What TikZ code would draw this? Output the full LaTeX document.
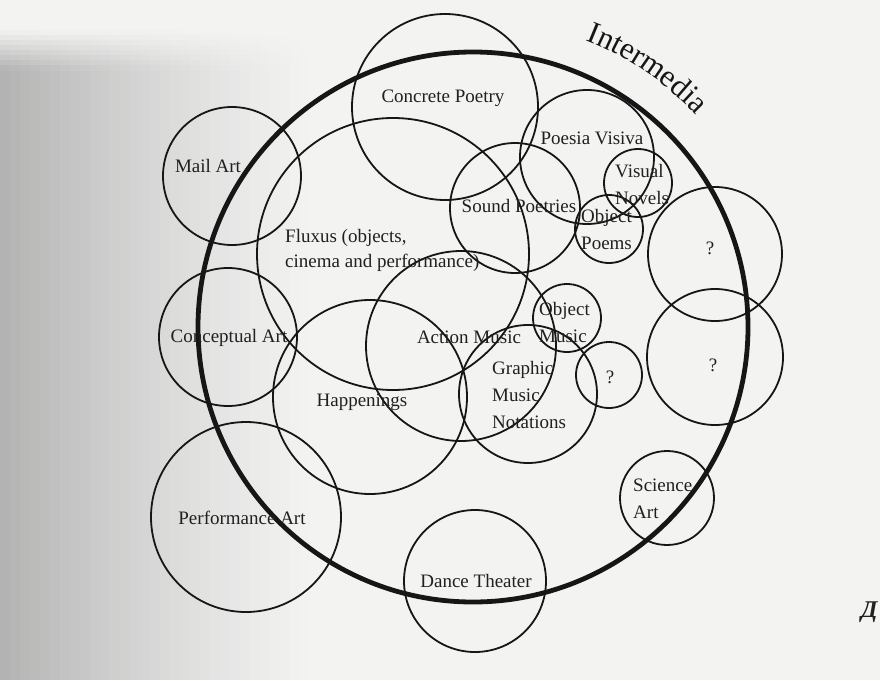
\documentclass[tikz,border=0pt]{standalone}
\usepackage{fontspec}
\setmainfont{Liberation Serif}
\newfontfamily\cyrfont{Liberation Serif}
\usetikzlibrary{decorations.text,calc}
\definecolor{pagebg}{RGB}{243,243,242}
\definecolor{shadowc}{RGB}{178,178,178}
\definecolor{ink}{RGB}{22,22,22}
\definecolor{txt}{RGB}{32,32,32}
\begin{document}
\begin{tikzpicture}[x=1pt,y=1pt,
  ring/.style={circle, draw=ink, line width=1.8pt, inner sep=0pt, minimum size=#1},
  bigring/.style={circle, draw=ink, line width=4.8pt, inner sep=0pt, minimum size=#1},
  lbl/.style={text=txt, font=\fontsize{19}{27}\selectfont, inner sep=0pt},
  mlbl/.style={lbl, align=left, anchor=west}]
\useasboundingbox (0,0) rectangle (880,-680);
\clip (0,0) rectangle (880,-680);
% page background with the soft shadow on the left
\fill[pagebg] (0,0) rectangle (880,-680);
\foreach \c in {0,...,31} {
  \pgfmathsetmacro\fx{100*(1-(\c*10+5)/320)^1.3}
  \fill[shadowc!\fx!pagebg] (\c*10,-70) rectangle (\c*10+10.6,-680);
  \foreach \r in {0,...,7} {
    \pgfmathsetmacro\fy{\fx*(\r+0.5)/8}
    \fill[shadowc!\fy!pagebg] (\c*10,-30-5*\r) rectangle (\c*10+10.6,-35.6-5*\r);
  }
}
% the Intermedia circle
\node[bigring=550pt] (inter) at (473,-327) {};
% the circles of the chart
\node[ring=186pt] (concrete) at (445,-107) {};
\node[ring=138pt] (mail) at (232,-176) {};
\node[ring=272pt] (fluxus) at (393,-254) {};
\node[ring=134pt] (poesia) at (587,-157) {};
\node[ring=130pt] (sound) at (515,-208) {};
\node[ring=68pt] (visual) at (638,-183) {};
\node[ring=68pt] (objpoems) at (609,-229) {};
\node[ring=134pt] (q1) at (715,-254) {};
\node[ring=136pt] (q2) at (715,-357) {};
\node[ring=68pt] (objmusic) at (567,-318) {};
\node[ring=66pt] (q3) at (609,-375) {};
\node[ring=190pt] (action) at (461,-346) {};
\node[ring=138pt] (graphic) at (528,-394) {};
\node[ring=138pt] (conceptual) at (228,-337) {};
\node[ring=194pt] (happenings) at (370,-397) {};
\node[ring=190pt] (performance) at (246,-517) {};
\node[ring=142pt] (dance) at (475,-581) {};
\node[ring=94pt] (science) at (667,-498) {};
% title along the big circle
\path[decorate, decoration={text along path, text align=center,
  text={|\fontsize{31}{32}\selectfont\color{ink}|Intermedia}}]
  ($(inter.center)+(80:308pt)$) arc[start angle=80, end angle=32, radius=308pt];
% labels
\node[lbl] (concreteL) at (443,-98) {Concrete Poetry};
\node[lbl] (mailL) at (208,-166) {Mail Art};
\node[mlbl, font=\fontsize{19}{25}\selectfont] (fluxusL) at (285,-250) {Fluxus (objects,\\cinema and performance)};
\node[lbl] (poesiaL) at (592,-138) {Poesia Visiva};
\node[lbl] (soundL) at (519,-206) {Sound Poetries};
\node[mlbl] (visualL) at (615,-184.5) {Visual\\Novels};
\node[mlbl] (objpoemsL) at (581,-229) {Object\\Poems};
\node[mlbl] (objmusicL) at (539,-322.5) {Object\\Music};
\node[lbl] (actionL) at (469,-337) {Action Music};
\node[mlbl] (graphicL) at (492,-394.5) {Graphic\\Music\\Notations};
\node[lbl] (q1L) at (710,-248) {?};
\node[lbl] (q2L) at (713,-365) {?};
\node[lbl] (q3L) at (610,-377) {?};
\node[lbl] (conceptualL) at (229,-338) {Conceptual Art};
\node[lbl] (happeningsL) at (362,-402) {Happenings};
\node[lbl] (performanceL) at (242,-518) {Performance Art};
\node[lbl] (danceL) at (476,-581) {Dance Theater};
\node[mlbl] (scienceL) at (633,-498.5) {Science\\Art};
\node[text=txt, font=\cyrfont\bfseries\itshape\fontsize{24}{26}\selectfont, anchor=west, inner sep=0pt] (dchar) at (861,-612) {Д};
\end{tikzpicture}
\end{document}
